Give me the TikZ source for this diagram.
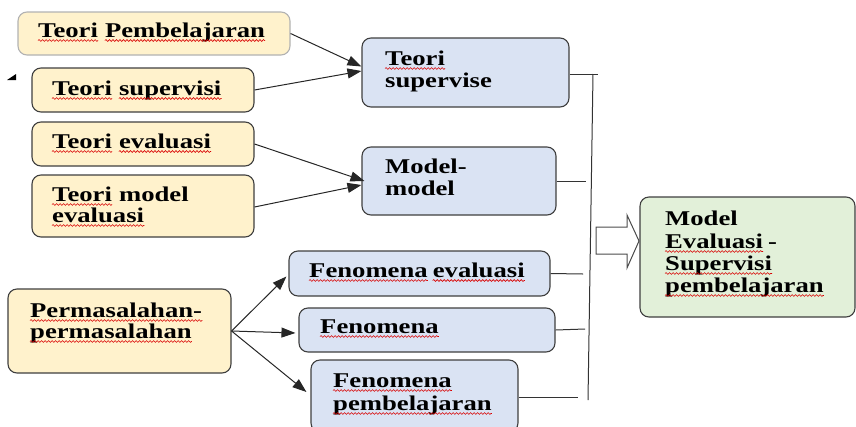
\documentclass[tikz,border=0pt]{standalone}
\usepackage{fontspec}
\setmainfont{Liberation Serif}[FakeStretch=1.27]
\usetikzlibrary{arrows.meta,decorations.pathmorphing}
\definecolor{yfill}{HTML}{FFF2CC}
\definecolor{bfill}{HTML}{DAE3F3}
\definecolor{gfill}{HTML}{E2F0D9}
\definecolor{edge}{HTML}{3F3F3F}
\tikzset{
  box/.style={draw=edge, line width=1.1pt, rounded corners=9pt, inner sep=0pt},
  ybox/.style={box, fill=yfill},
  bbox/.style={box, fill=bfill},
  gbox/.style={box, fill=gfill},
  lbl/.style={anchor=base west, inner sep=0pt, font=\fontsize{21}{22}\selectfont\bfseries},
  nxt/.style={lbl, xshift=6.7pt},
  arr/.style={draw=black!85, line width=1pt, -{Triangle[length=14pt,width=10pt]}},
  link/.style={draw=black!80, line width=1pt},
  wav/.style={draw=red!85!black, line width=0.6pt, decorate,
    decoration={snake, segment length=3.5pt, amplitude=0.9pt}},
}
% red wavy spell-check line under a word node
\newcommand\wv[1]{\draw[wav] ([yshift=-3.5pt]#1.base west) -- ([yshift=-3.5pt]#1.base east);}
\begin{document}
\begin{tikzpicture}[x=1pt, y=-1pt]
\useasboundingbox (0,0) rectangle (856,426);

% source boxes
\node[ybox, draw=black!30, minimum width=272pt, minimum height=43pt] (tp) at (154,33.5) {};
\node[ybox, minimum width=222pt, minimum height=44pt] (ts) at (143,90) {};
\node[ybox, minimum width=222pt, minimum height=44pt] (te) at (143,144) {};
\node[ybox, minimum width=222pt, minimum height=62pt] (tm) at (143,206) {};
\node[ybox, minimum width=223pt, minimum height=84pt] (pp) at (119.5,331) {};

% intermediate boxes
\node[bbox, minimum width=207pt, minimum height=69pt] (bs) at (465.5,72.5) {};
\node[bbox, minimum width=194pt, minimum height=68pt] (bm) at (459,181) {};
\node[bbox, minimum width=261pt, minimum height=45pt] (fe) at (419.5,273.5) {};
\node[bbox, minimum width=256pt, minimum height=44pt] (ff) at (427,330) {};
\node[bbox, minimum width=207pt, minimum height=72pt] (fp) at (414.5,396) {};

% result box
\node[gbox, minimum width=215pt, minimum height=120pt] (gm) at (747.5,257) {};

% labels, one node per word where a word carries a wavy line
\node[lbl] (l1a) at (38,37) {Teori};
\node[nxt] (l1b) at (l1a.base east) {Pembelajaran};
\node[lbl] (l2a) at (52,95) {Teori};
\node[nxt] (l2b) at (l2a.base east) {supervisi};
\node[lbl] (l3a) at (52,148) {Teori};
\node[nxt] (l3b) at (l3a.base east) {evaluasi};
\node[lbl] (l4a) at (52,201) {Teori};
\node[nxt] (l4c) at (l4a.base east) {model};
\node[lbl] (l4b) at (52,222) {evaluasi};
\node[lbl] (l5a) at (30,317) {Permasalahan-};
\node[lbl] (l5b) at (30,338) {permasalahan};

\node[lbl] (m1a) at (385,65) {Teori};
\node[lbl] (m1b) at (385,87) {supervise};
\node[lbl] (m2a) at (385,173) {Model-};
\node[lbl] (m2b) at (385,195) {model};
\node[lbl] (m3a) at (309,277) {Fenomena};
\node[nxt, xshift=-2pt] (m3b) at (m3a.base east) {evaluasi};
\node[lbl] (m4) at (320,333) {Fenomena};
\node[lbl] (m5a) at (333,387) {Fenomena};
\node[lbl] (m5b) at (333,410) {pembelajaran};

\node[lbl] (r1) at (665,225) {Model};
\node[lbl] (r2a) at (665,248) {Evaluasi};
\node[nxt, xshift=-2pt] (r2b) at (r2a.base east) {-};
\node[lbl] (r3) at (665,270) {Supervisi};
\node[lbl] (r4) at (665,292) {pembelajaran};

% wavy lines under flagged words
\wv{l1a}\wv{l1b}\wv{l2a}\wv{l2b}\wv{l3a}\wv{l3b}\wv{l4a}\wv{l4b}
\wv{l5a}\wv{l5b}\wv{m1a}\wv{m3a}\wv{m3b}\wv{m4}\wv{m5a}\wv{m5b}
\wv{r2a}\wv{r3}\wv{r4}

% arrows into the intermediate boxes
\draw[arr] (tp.east) -- ([yshift=6pt]bs.west);
\draw[arr] (ts.east) -- ([yshift=1.5pt]bs.west);
\draw[arr] (te.east) -- ([xshift=3pt]bm.west);
\draw[arr] ([yshift=-1pt]tm.east) -- ([yshift=-4pt]bm.west);
\draw[arr] (pp.east) -- ([xshift=-2pt,yshift=-3pt]fe.west);
\draw[arr] (pp.east) -- ([xshift=-3pt,yshift=-3pt]ff.west);
\draw[arr] (pp.east) -- ([xshift=-4pt,yshift=4pt]fp.west);

% collecting bus
\coordinate (bt) at (593,74);
\coordinate (be) at (598,74);
\coordinate (bb) at (588,400);
\coordinate (c2) at (586,181);
\coordinate (c3) at (583,274);
\coordinate (c4) at (585,329);
\coordinate (c5) at (578,397);
\draw[link] (bs.east |- be) -- (be);
\draw[link] (bt) -- (bb);
\draw[link] (bm.east) -- (c2);
\draw[link] (fe.east) -- (c3);
\draw[link] (ff.east) -- (c4);
\draw[link] ([yshift=-1pt]fp.east) -- (c5);

% hollow block arrow to the result
\draw[draw=black!70, fill=white, line width=1pt]
  (596,227) -- (627,227) -- (627,215) -- (639,241) -- (627,268) -- (627,254) -- (596,254) -- cycle;

% small marker at the left
\fill (7,80) -- (16,80) -- (16,74) -- cycle;
\end{tikzpicture}
\end{document}
